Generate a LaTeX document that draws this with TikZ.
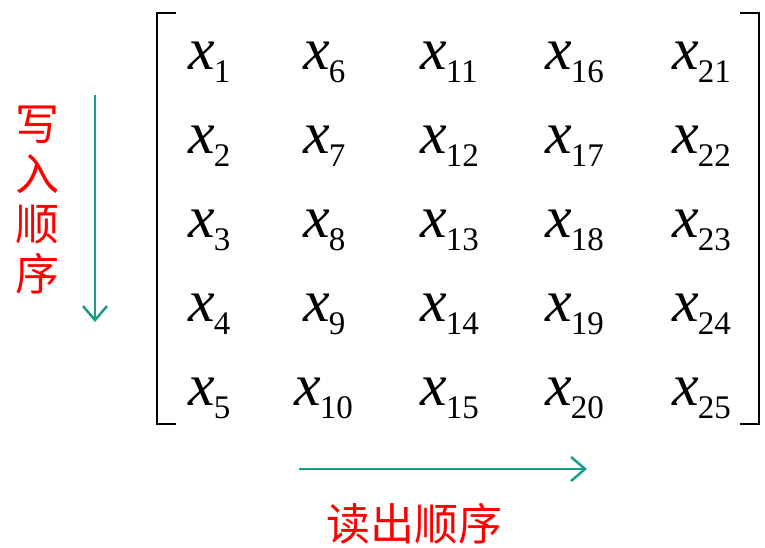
\documentclass[tikz,border=0pt]{standalone}
\usepackage{fontspec}
\newfontface\tmsi{Liberation Serif Italic}
\newfontface\tmsr{Liberation Serif}
\newfontface\cjk{Noto Sans CJK SC}
\usetikzlibrary{arrows.meta}
\definecolor{arrowteal}{RGB}{26,158,138}
\newcommand\entry[1]{{\tmsi\fontsize{60}{60}\selectfont x}\kern-1pt\raisebox{-13pt}{\tmsr\fontsize{33}{33}\selectfont #1}}
\tikzset{
  ent/.style={anchor=base west, inner sep=0pt},
  bracket/.style={line width=2.5pt},
  flow/.style={draw=arrowteal, line width=2.5pt, -{Straight Barb[length=14pt,width=24pt]}},
  lab/.style={text=red, font=\cjk\fontsize{44}{48}\selectfont, inner sep=0pt},
}
\begin{document}
\begin{tikzpicture}[x=1pt,y=-1pt]
\useasboundingbox (0,0) rectangle (765,548);
% brackets
\draw[bracket] (176,13) -- (157,13) -- (157,424) -- (176,424);
\draw[bracket] (740,13) -- (759,13) -- (759,424) -- (740,424);
% entries
\foreach \r in {1,...,5}{
  \pgfmathsetmacro{\yy}{70+83.75*(\r-1)}
  \foreach \c/\xx in {1/188,2/303,3/420,4/545,5/672}{
    \pgfmathtruncatemacro{\k}{(\c-1)*5+\r}
    \pgfmathsetmacro{\xa}{(\k==10) ? 294 : \xx}
    \node[ent] (e\k) at (\xa,\yy) {\entry{\k}};
  }
}
% write order
\coordinate (ws) at (95,95);
\coordinate (we) at (95,322);
\draw[flow] (ws) -- (we);
\node[lab, align=center] (write) at (37,200) {写\\[2pt]入\\[2pt]顺\\[2pt]序};
% read order
\coordinate (rs) at (299,469);
\coordinate (re) at (587,469);
\draw[flow] (rs) -- (re);
\node[lab] (read) at (414,524) {读出顺序};
\end{tikzpicture}
\end{document}
